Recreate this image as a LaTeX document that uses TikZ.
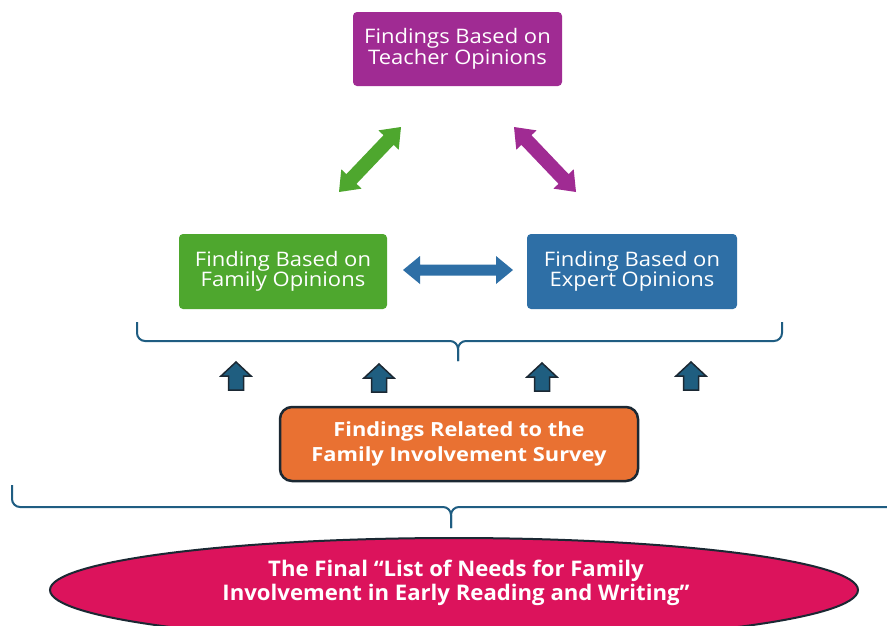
\documentclass[tikz,border=0pt]{standalone}
\usepackage{fontspec}
\setmainfont{Open Sans}
\newfontfamily\boxfont[FakeStretch=1.1]{Open Sans}
\newfontfamily\widefont[FakeStretch=1.12]{Open Sans}
\newfontfamily\finalfont[FakeStretch=1.03]{Open Sans}
\usetikzlibrary{calc,shapes.geometric}

\definecolor{cPurple}{HTML}{A02B93}
\definecolor{cGreen}{HTML}{4EA72E}
\definecolor{cBlue}{HTML}{2E6FA6}
\definecolor{cBrace}{HTML}{1F5D82}
\definecolor{cUp}{HTML}{1F5E80}
\definecolor{cOutline}{HTML}{1B2833}
\definecolor{cOrange}{HTML}{E97132}
\definecolor{cCrimson}{HTML}{DC135C}

% double-headed block arrow: style, tip A, tip B, half shaft, half head, head length
\newcommand\dblarrow[6]{%
  \coordinate (hA) at ($(#2)!#6!(#3)$);
  \coordinate (hB) at ($(#3)!#6!(#2)$);
  \path[#1] (#2) -- ($(hA)!#5!90:(#3)$) -- ($(hA)!#4!90:(#3)$)
    -- ($(hB)!#4!-90:(#2)$) -- ($(hB)!#5!-90:(#2)$) -- (#3)
    -- ($(hB)!#5!90:(#2)$) -- ($(hB)!#4!90:(#2)$)
    -- ($(hA)!#4!-90:(#3)$) -- ($(hA)!#5!-90:(#3)$) -- cycle;}

\tikzset{
  box/.style={rounded corners=4pt, text=white, align=center, inner sep=0pt,
    font=\boxfont\fontsize{20}{20.5}\selectfont},
  surveybox/.style={rounded corners=12pt, fill=cOrange, draw=cOutline, line width=2.5pt,
    text=white, align=center, inner sep=0pt,
    font=\widefont\bfseries\fontsize{19.5}{25}\selectfont},
  finalshape/.style={ellipse, fill=cCrimson, draw=cOutline, line width=2pt, inner sep=0pt},
  finaltext/.style={text=white, align=center, inner sep=0pt,
    font=\finalfont\bfseries\fontsize{21.5}{24.5}\selectfont},
  bracket/.style={draw=cBrace, line width=2pt, rounded corners=8pt},
  upstyle/.style={fill=cUp, draw=cOutline, line width=1.5pt, line join=miter},
  uparr/.pic={\path[upstyle] (0,-14) -- (15,0) -- (7.5,0) -- (7.5,14) -- (-7.5,14)
    -- (-7.5,0) -- (-15,0) -- cycle;}
}

\begin{document}
\begin{tikzpicture}[x=1pt, y=-1pt]
\useasboundingbox (0,0) rectangle (887,625);
\fill[white] (0,0) rectangle (887,625);

% three sources of findings
\node[box, fill=cPurple, minimum width=209pt, minimum height=74pt] (teacher) at (457.5,49)
  {Findings Based on\\Teacher Opinions};
\node[box, fill=cGreen, minimum width=208pt, minimum height=75pt] (family) at (283,271.5)
  {Finding Based on\\Family Opinions};
\node[box, fill=cBlue, minimum width=210pt, minimum height=75pt] (expert) at (632,271.5)
  {Finding Based on\\Expert Opinions};

% links between the sources
\coordinate (g1) at (339,192);
\coordinate (g2) at (401,127);
\coordinate (p1) at (514,127);
\coordinate (p2) at (576,192);
\coordinate (b1) at (403,270);
\coordinate (b2) at (513,270);
\dblarrow{fill=cGreen}{g1}{g2}{7pt}{14pt}{18pt}
\dblarrow{fill=cPurple}{p1}{p2}{7pt}{14pt}{18pt}
\dblarrow{fill=cBlue}{b1}{b2}{5.5pt}{14pt}{17pt}

% upper bracket
\coordinate (t1) at (137,322);
\coordinate (t2) at (782,322);
\coordinate (tm) at (458,341);
\coordinate (tt) at (458,361);
\draw[bracket] (t1) |- (tm) -- (tt);
\draw[bracket] (t2) |- (tm) -- (tt);

% survey findings feeding the sources
\pic at (236,376) {uparr};
\pic at (379,378) {uparr};
\pic at (542,377) {uparr};
\pic at (691,376) {uparr};

\node[surveybox, minimum width=358pt, minimum height=74pt] (survey) at (459,444)
  {Findings Related to the\\Family Involvement Survey};

% lower bracket
\coordinate (l1) at (12,485);
\coordinate (l2) at (900,485);
\coordinate (lm) at (451,507);
\coordinate (lt) at (451,528);
\draw[bracket] (l1) |- (lm) -- (lt);
\draw[bracket] (l2) |- (lm) -- (lt);

% final list
\node[finalshape, minimum width=808pt, minimum height=104pt] (final) at (454,590) {};
\node[finaltext] (finaltxt) at (456,583)
  {The Final \textquotedblleft List of Needs for Family\\Involvement in Early Reading and Writing\textquotedblright};
\end{tikzpicture}
\end{document}
